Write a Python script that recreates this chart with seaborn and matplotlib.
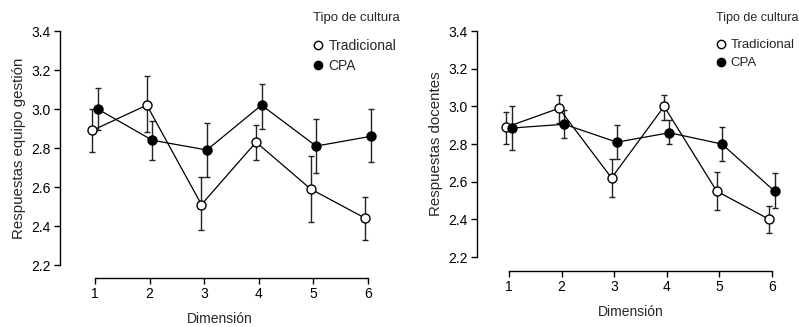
import numpy as np
import pandas as pd
import matplotlib
matplotlib.use("Agg")
import matplotlib.pyplot as plt
import seaborn as sns
from matplotlib.lines import Line2D

# Datos
dimensiones = [1, 2, 3, 4, 5, 6]
grupos = ["Tradicional", "CPA"]

gestion_trad = [2.89, 3.02, 2.51, 2.83, 2.59, 2.44]
gestion_trad_lo = [2.78, 2.88, 2.38, 2.74, 2.42, 2.33]
gestion_trad_hi = [3.00, 3.17, 2.65, 2.92, 2.76, 2.55]
gestion_cpa = [3.00, 2.84, 2.79, 3.02, 2.81, 2.86]
gestion_cpa_lo = [2.89, 2.74, 2.65, 2.90, 2.67, 2.73]
gestion_cpa_hi = [3.11, 2.94, 2.93, 3.13, 2.95, 3.00]

docentes_trad = [2.89, 2.99, 2.62, 3.00, 2.55, 2.40]
docentes_trad_lo = [2.80, 2.91, 2.52, 2.93, 2.45, 2.33]
docentes_trad_hi = [2.97, 3.06, 2.72, 3.06, 2.65, 2.47]
docentes_cpa = [2.885, 2.905, 2.81, 2.86, 2.80, 2.55]
docentes_cpa_lo = [2.77, 2.83, 2.72, 2.80, 2.71, 2.46]
docentes_cpa_hi = [3.00, 2.98, 2.90, 2.93, 2.89, 2.645]

sns.set_style("white")
plt.rcParams['font.family'] = ['Liberation Sans', 'DejaVu Sans']


def make_df(trad, trad_lo, trad_hi, cpa, cpa_lo, cpa_hi):
    rows = []
    for g, m, lo, hi, off in [("Tradicional", trad, trad_lo, trad_hi, -0.05),
                              ("CPA", cpa, cpa_lo, cpa_hi, 0.05)]:
        for d, v, l, h in zip(dimensiones, m, lo, hi):
            rows.append({'dim': d, 'x': d + off, 'grupo': g, 'media': v, 'lo': l, 'hi': h})
    return pd.DataFrame(rows)


estilos = {"Tradicional": dict(mfc='white'), "CPA": dict(mfc='black')}


def panel(ax, df, ylabel, xlim, xoff, leg_x, leg_size, leg_top):
    fig = ax.figure
    for g in grupos:
        sub = df[df['grupo'] == g]
        ax.errorbar(sub['x'], sub['media'],
                    yerr=[sub['media'] - sub['lo'], sub['hi'] - sub['media']],
                    fmt='none', ecolor='#222222', elinewidth=1.0, capsize=2.2, capthick=1.0, zorder=2)
    sns.lineplot(data=df, x='x', y='media', hue='grupo', palette={'Tradicional': 'black', 'CPA': 'black'},
                 legend=False, ax=ax, lw=0.9, zorder=3, estimator=None)
    for g in grupos:
        sub = df[df['grupo'] == g]
        ax.plot(sub['x'], sub['media'], ls='none', marker='o', ms=6.5, mec='black', mew=1.0,
                zorder=4, **estilos[g])

    ax.set_xlim(*xlim)
    ax.set_ylim(2.2, 3.4)
    ax.set_xticks(dimensiones)
    ax.set_yticks([2.2, 2.4, 2.6, 2.8, 3.0, 3.2, 3.4])
    ax.set_yticklabels([f"{v:.1f}" for v in [2.2, 2.4, 2.6, 2.8, 3.0, 3.2, 3.4]])
    sns.despine(ax=ax)
    ax.spines['bottom'].set_position(('outward', xoff))
    ax.spines['bottom'].set_bounds(1, 6)
    ax.spines['left'].set_bounds(2.2, 3.4)
    for s in ['left', 'bottom']:
        ax.spines[s].set_linewidth(1.0)
        ax.spines[s].set_color('black')
    ax.tick_params(axis='both', direction='out', length=4, width=1.0, colors='black',
                   labelsize=10, left=True, bottom=True, pad=2.5)
    ax.set_xlabel("Dimensión", fontsize=10)
    ax.set_ylabel(ylabel, fontsize=10.8)

    # leyenda: título aparte y entradas debajo
    fig.text(leg_x / 799, 1 - 18 / 327, "Tipo de cultura", fontsize=leg_size - 0.5,
             ha='left', va='center')
    handles = [Line2D([], [], ls='none', marker='o', ms=6, mec='black', mfc='white'),
               Line2D([], [], ls='none', marker='o', ms=6, mec='black', mfc='black')]
    fig.legend(handles, grupos, loc='upper left',
               bbox_to_anchor=(leg_x / 799, 1 - leg_top / 327), bbox_transform=fig.transFigure,
               frameon=False, fontsize=leg_size,
               handlelength=0.7, handletextpad=0.4, labelspacing=0.45,
               borderpad=0, borderaxespad=0)


fig = plt.figure(figsize=(7.99, 3.27), dpi=100)
ax1 = fig.add_axes([0.0751, 0.1895, 0.4005, 0.7156])
ax2 = fig.add_axes([0.597, 0.214, 0.3855, 0.691])

df1 = make_df(gestion_trad, gestion_trad_lo, gestion_trad_hi, gestion_cpa, gestion_cpa_lo, gestion_cpa_hi)
df2 = make_df(docentes_trad, docentes_trad_lo, docentes_trad_hi, docentes_cpa, docentes_cpa_lo, docentes_cpa_hi)

panel(ax1, df1, "Respuestas equipo gestión", (0.36, 6.22), 9, 313, 10, 39)
panel(ax2, df2, "Respuestas docentes", (0.39, 6.25), 10, 716, 9.5, 39)

ax1.xaxis.labelpad = 8
ax2.xaxis.labelpad = 8

fig.savefig("out.png", dpi=100)
